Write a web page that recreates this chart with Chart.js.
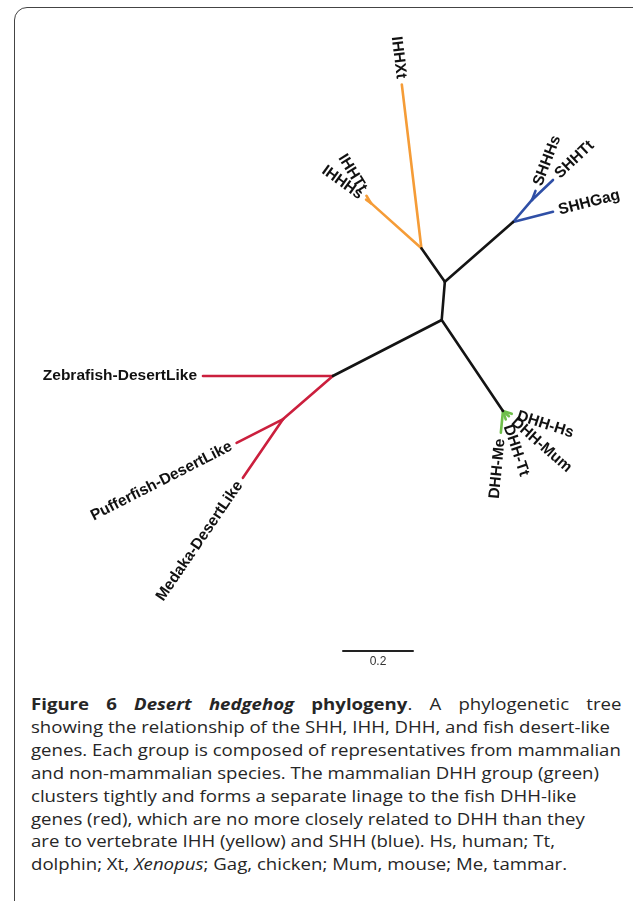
<!DOCTYPE html>
<html><head><meta charset="utf-8">
<script src="https://cdn.jsdelivr.net/npm/chart.js@4/dist/chart.umd.min.js"></script>
<style>
html,body{margin:0;padding:0;background:#fff;width:633px;height:901px;overflow:hidden;}
#frame{position:absolute;left:14px;top:7px;width:660px;height:940px;border:1.5px solid #444;border-radius:13px;box-sizing:border-box;}
#chartBox{position:absolute;left:0;top:0;width:633px;height:680px;}
#caption{position:absolute;left:31px;top:693px;font-family:"Open Sans",sans-serif;font-size:15.5px;line-height:22.9px;color:#262626;white-space:nowrap;transform:scaleX(1.2);transform-origin:0 0;}
#caption .first{width:492px;white-space:normal;text-align:justify;text-align-last:justify;height:22.9px;}
</style></head>
<body>
<div id="frame"></div>
<div id="chartBox"><canvas id="c" width="633" height="680"></canvas></div>
<div id="caption">
<div class="first"><b>Figure 6 <i>Desert hedgehog</i> phylogeny</b>. A phylogenetic tree</div>
<div>showing the relationship of the SHH, IHH, DHH, and fish desert-like</div>
<div>genes. Each group is composed of representatives from mammalian</div>
<div>and non-mammalian species. The mammalian DHH group (green)</div>
<div>clusters tightly and forms a separate linage to the fish DHH-like</div>
<div>genes (red), which are no more closely related to DHH than they</div>
<div>are to vertebrate IHH (yellow) and SHH (blue). Hs, human; Tt,</div>
<div>dolphin; Xt, <i>Xenopus</i>; Gag, chicken; Mum, mouse; Me, tammar.</div>
</div>
<script>
// Tree coordinates in branch-length units (scale bar = 0.2)
const internalNames = ['R','U','I','I2','S','S2','F','F2','D'];
const internalX = [0, 0.009, -0.058, -0.202, 0.204, 0.258, -0.311, -0.453, 0.175];
const internalY = [0, 0.109, 0.205, 0.334, 0.280, 0.343, -0.160, -0.283, -0.260];
const internalParent = [null, 'R', 'U', 'I', 'U', 'S', 'R', 'F', 'R'];
const internalGroup = [null, 'stem', 'stem', 'IHH', 'stem', 'SHH', 'stem', 'fish', 'stem'];

const leafNames = ['IHHXt','IHHHs','IHHTt','SHHGag','SHHTt','SHHHs',
  'Zebrafish-DesertLike','Pufferfish-DesertLike','Medaka-DesertLike',
  'DHH-Hs','DHH-Mum','DHH-Tt','DHH-Me'];
const leafX = [-0.114, -0.216, -0.215, 0.318, 0.318, 0.268, -0.682, -0.586, -0.568, 0.200, 0.192, 0.183, 0.169];
const leafY = [0.673, 0.344, 0.355, 0.309, 0.400, 0.369, -0.160, -0.351, -0.451, -0.268, -0.275, -0.284, -0.322];
const leafParent = ['I','I2','I2','S','S2','S2','F','F2','F2','D','D','D','D'];
const leafGroup = ['IHH','IHH','IHH','SHH','SHH','SHH','fish','fish','fish','DHH','DHH','DHH','DHH'];

const scaleBarLength = 0.2;
const scaleBarLabel = '0.2';

const groupColors = {stem:'#141414', IHH:'#f59c37', SHH:'#2f4fa6', fish:'#cb1f3d', DHH:'#6fbf4a'};

function nodePos(name){const i=internalNames.indexOf(name);return {x:internalX[i],y:internalY[i]};}

const datasets = [];
internalNames.forEach((n,i)=>{
  if(!internalParent[i]) return;
  const p = nodePos(internalParent[i]);
  datasets.push({data:[p,{x:internalX[i],y:internalY[i]}], borderColor:groupColors[internalGroup[i]]});
});
leafNames.forEach((n,i)=>{
  const p = nodePos(leafParent[i]);
  datasets.push({data:[p,{x:leafX[i],y:leafY[i]}], borderColor:groupColors[leafGroup[i]]});
});
const sbX = -0.282, sbY = -0.946;
datasets.push({data:[{x:sbX,y:sbY},{x:sbX+scaleBarLength,y:sbY}], borderColor:'#222', borderWidth:2});
datasets.forEach(d=>{d.showLine=true;d.pointRadius=0;d.fill=false;if(!d.borderWidth)d.borderWidth=2.6;d.borderCapStyle='round';});

const labelPlugin = {
  id:'labels',
  afterDatasetsDraw(chart){
    const ctx = chart.ctx, xs = chart.scales.x, ys = chart.scales.y;
    ctx.save();
    ctx.fillStyle = '#111';
    ctx.font = 'bold 15.5px "Liberation Sans", Arial, sans-serif';
    ctx.textBaseline = 'middle';
    const gap = 6;
    leafNames.forEach((name,i)=>{
      const p = nodePos(leafParent[i]);
      const tx = xs.getPixelForValue(leafX[i]), ty = ys.getPixelForValue(leafY[i]);
      const px = xs.getPixelForValue(p.x), py = ys.getPixelForValue(p.y);
      const a = Math.atan2(ty-py, tx-px);
      ctx.save();
      ctx.translate(tx,ty);
      if(Math.cos(a) >= 0){ ctx.rotate(a); ctx.textAlign='left'; ctx.fillText(name, gap, 0); }
      else { ctx.rotate(a+Math.PI); ctx.textAlign='right'; ctx.fillText(name, -gap, 0); }
      ctx.restore();
    });
    ctx.font = '12px "Liberation Sans", Arial, sans-serif';
    ctx.fillStyle = '#333';
    ctx.textAlign = 'center';
    ctx.textBaseline = 'top';
    ctx.fillText(scaleBarLabel, xs.getPixelForValue(sbX+scaleBarLength/2), ys.getPixelForValue(sbY)+5);
    ctx.restore();
  }
};

new Chart(document.getElementById('c'), {
  type:'scatter',
  data:{datasets},
  options:{
    responsive:false, animation:false, devicePixelRatio:1,
    layout:{padding:0},
    plugins:{legend:{display:false}, tooltip:{enabled:false}},
    scales:{
      x:{type:'linear', min:-441.7/350, max:(633-441.7)/350, display:false},
      y:{type:'linear', min:(320-680)/350, max:320/350, display:false}
    }
  },
  plugins:[labelPlugin]
});
</script>
</body></html>
